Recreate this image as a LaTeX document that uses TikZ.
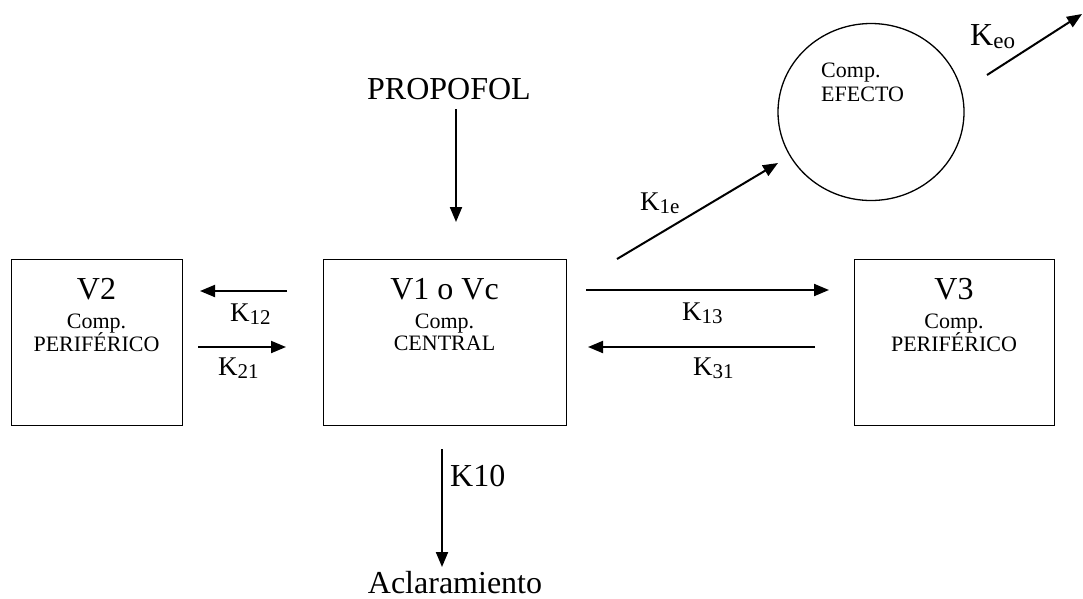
\documentclass[tikz,border=0pt]{standalone}
\usepackage{fontspec}
\setmainfont{Liberation Serif}
\usetikzlibrary{arrows.meta,shapes.geometric}
\newcommand\lowsub[2]{\raisebox{-3pt}{\fontsize{#1}{#1}\selectfont #2}}
\begin{document}
\begin{tikzpicture}[x=1pt,y=-1pt,
  box/.style={draw, line width=1.3pt, inner sep=0pt, anchor=north west},
  big/.style={font=\fontsize{32}{36}\selectfont, inner sep=0pt, anchor=base},
  small/.style={font=\fontsize{22}{24}\selectfont, inner sep=0pt, anchor=base},
  klab/.style={font=\fontsize{27}{30}\selectfont, inner sep=0pt, anchor=base west},
  kbig/.style={font=\fontsize{32}{36}\selectfont, inner sep=0pt, anchor=base west},
  flow/.style={line width=2pt, -{Triangle[length=15pt,width=12pt]}},
]
\useasboundingbox (0,0) rectangle (1083,598);

% boxes
\node[box, minimum width=171pt, minimum height=166pt] (v2) at (11,259) {};
\node[box, minimum width=243pt, minimum height=166pt] (v1) at (323,259) {};
\node[box, minimum width=200pt, minimum height=166pt] (v3) at (854,259) {};
\node[draw, ellipse, line width=1.3pt, inner sep=0pt, minimum width=186pt, minimum height=177pt] (ef) at (871,112) {};

% box texts
\node[big] (v2t) at (96.5,299) {V2};
\node[small] (v2c) at (96.5,328) {Comp.};
\node[small] (v2p) at (96.5,351) {PERIFÉRICO};
\node[big] (v1t) at (444.5,299) {V1 o Vc};
\node[small] (v1c) at (444.5,328) {Comp.};
\node[small] (v1p) at (444.5,350) {CENTRAL};
\node[big] (v3t) at (954,299) {V3};
\node[small] (v3c) at (954,328) {Comp.};
\node[small] (v3p) at (954,351) {PERIFÉRICO};
\node[small, anchor=base west] (efc) at (821,77) {Comp.};
\node[small, anchor=base west] (efe) at (821,101) {EFECTO};

% other texts
\node[big] (prop) at (449,99) {PROPOFOL};
\node[big] (acl) at (455,593) {Aclaramiento};
\node[kbig] (k10) at (450,486) {K10};
\node[kbig] (keo) at (970,45) {K\lowsub{23}{eo}};
\node[klab] (k12) at (230,321) {K\lowsub{21}{12}};
\node[klab] (k21) at (218,375) {K\lowsub{21}{21}};
\node[klab] (k13) at (682,320) {K\lowsub{21}{13}};
\node[klab] (k31) at (693,375) {K\lowsub{21}{31}};
\node[klab] (k1e) at (640,210) {K\lowsub{21}{1e}};

% arrow end points
\coordinate (pa) at (456,109);  \coordinate (pb) at (456,222);
\coordinate (ca) at (442,449);  \coordinate (cb) at (442,567);
\coordinate (a12) at (287,291); \coordinate (b12) at (200,291);
\coordinate (a21) at (198,347); \coordinate (b21) at (286,347);
\coordinate (a13) at (586,290); \coordinate (b13) at (829,290);
\coordinate (a31) at (815,347); \coordinate (b31) at (588,347);
\coordinate (a1e) at (617,259); \coordinate (b1e) at (778,163);
\coordinate (aeo) at (987,75);  \coordinate (beo) at (1082,14);

\draw[flow] (pa) -- (pb);
\draw[flow] (ca) -- (cb);
\draw[flow] (a12) -- (b12);
\draw[flow] (a21) -- (b21);
\draw[flow] (a13) -- (b13);
\draw[flow] (a31) -- (b31);
\draw[flow] (a1e) -- (b1e);
\draw[flow] (aeo) -- (beo);
\end{tikzpicture}
\end{document}
